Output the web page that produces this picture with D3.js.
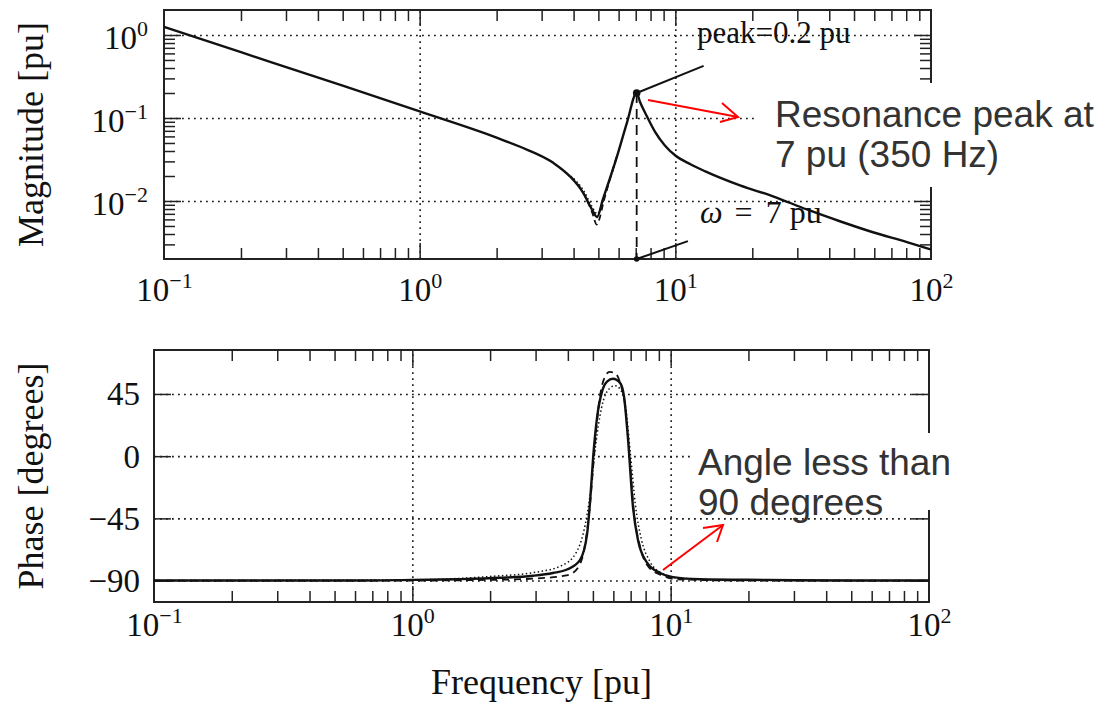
<!DOCTYPE html>
<html><head><meta charset="utf-8">
<script src="https://cdn.jsdelivr.net/npm/d3@7"></script>
<style>
body{margin:0;background:#fff}
svg{display:block}
</style></head><body>
<svg id="c" width="1100" height="706"></svg>
<script>
// ---------- data ----------
const freqTicks = [0.1, 1, 10, 100];
const freqTickExp = ["\u22121", "0", "1", "2"];
const magTicks = [1, 0.1, 0.01];
const magTickExp = ["0", "\u22121", "\u22122"];
const phaseTicks = [45, 0, -45, -90];
const phaseTickLabels = ["45", "0", "\u221245", "\u221290"];

const magFreq  = [0.1, 0.2, 0.5, 1, 2, 2.47, 3.32, 3.87, 4.35, 4.72, 4.94, 5.21, 5.91, 6.47, 7.06, 7.27, 7.75, 8.32, 9.1, 10, 11.5, 13.1, 17.9, 24.1, 32.7, 44, 59.3, 80.5, 100];
const magSolid = [1.25, 0.62, 0.245, 0.12, 0.058, 0.045, 0.029, 0.0198, 0.0127, 0.0079, 0.0064, 0.0105, 0.0343, 0.088, 0.2, 0.157, 0.104, 0.0686, 0.0467, 0.0353, 0.0275, 0.0227, 0.0154, 0.0114, 0.0079, 0.0057, 0.0042, 0.0032, 0.0026];
const magDashFreq = [3.9, 4.4, 4.75, 4.92, 5.0, 5.25, 5.9];
const magDash     = [0.0196, 0.0120, 0.0070, 0.0052, 0.0056, 0.0100, 0.0343];
const magDotFreq  = [3.9, 4.4, 4.7, 4.95, 5.25, 5.9];
const magDot      = [0.0200, 0.0130, 0.0088, 0.0070, 0.0110, 0.0340];

const phFreq  = [0.1, 0.3, 0.6, 1, 1.5, 2.2, 2.93, 3.5, 3.97, 4.46, 4.75, 4.88, 5.01, 5.19, 5.43, 5.67, 5.98, 6.37, 6.6, 6.84, 7.15, 7.48, 8.1, 9.1, 10.2, 13, 23.6, 50, 100];
const phSolid = [-90, -90, -90, -89.5, -89, -88, -86.5, -84.5, -82, -75, -56, -32, -1, 28, 47, 54, 56, 53, 43, 12, -37, -61, -77, -84.5, -87.5, -89, -89.5, -90, -90];
const phDashFreq = [0.1, 1, 2, 3, 4, 4.4, 4.7, 4.9, 5.05, 5.25, 5.5, 5.8, 6.1, 6.4, 6.65, 6.9, 7.2, 7.6, 8.2, 9.2, 10.5, 20, 100];
const phDash     = [-90, -90, -89.5, -88.5, -86, -80, -60, -30, 0, 35, 55, 61, 60, 52, 38, 5, -40, -65, -80, -86, -89, -90, -90];
const phDotFreq  = [0.1, 1, 2, 3, 3.8, 4.3, 4.6, 4.9, 5.1, 5.4, 5.8, 6.1, 6.4, 6.7, 7.0, 7.3, 7.7, 8.3, 9.3, 10.5, 20, 100];
const phDot      = [-90, -89.5, -87, -84, -79, -70, -55, -25, 5, 35, 49, 51, 48, 35, 0, -35, -60, -76, -85, -88, -90, -90];

const peakFreq = 7.06, peakMag = 0.2;
const peakLabelEnd = [12.9, 0.425];
const omegaLabelEnd = [11.2, 0.00328];

// ---------- setup ----------
const svg = d3.select("#c");
svg.append("rect").attr("width", 1100).attr("height", 706).attr("fill", "#fff");
const SERIF = "'Liberation Serif','Times New Roman',serif";
const SANS = "'Liberation Sans',Arial,sans-serif";
const INK = "#111";

function minorLog(lo, hi) {
  const out = [];
  for (let d = Math.pow(10, Math.floor(Math.log10(lo))); d < hi; d *= 10)
    for (let k = 2; k <= 9; k++) { const v = d * k; if (v > lo * 1.0001 && v < hi * 0.9999) out.push(v); }
  return out;
}

function panel(x, y, o) {
  const [L, R] = x.range(), [B, T] = y.range();
  const g = svg.append("g");
  const W = R - L, H = B - T;
  // grid
  const gx = g.append("g").attr("transform", `translate(0,${B})`)
    .call(d3.axisBottom(x).tickValues([1, 10]).tickSize(-H).tickFormat(""));
  const gy = g.append("g").attr("transform", `translate(${L},0)`)
    .call(d3.axisLeft(y).tickValues(o.yTicks).tickSize(-W).tickFormat(""));
  [gx, gy].forEach(s => {
    s.select(".domain").remove();
    s.selectAll("line").attr("stroke", "#1a1a1a").attr("stroke-width", 1.6).attr("stroke-dasharray", "1.8,4.2");
  });
  // ticks
  const tk = (axis, tr, vals, size) => {
    const s = g.append("g").attr("transform", tr).call(axis.tickValues(vals).tickSize(-size).tickFormat(""));
    s.select(".domain").remove();
    s.selectAll("line").attr("stroke", "#222").attr("stroke-width", 1.5);
  };
  const mx = minorLog(0.1, 100);
  tk(d3.axisBottom(x), `translate(0,${B})`, mx, 11);
  tk(d3.axisTop(x), `translate(0,${T})`, mx, 11);
  tk(d3.axisBottom(x), `translate(0,${B})`, [1, 10], 16);
  tk(d3.axisTop(x), `translate(0,${T})`, [1, 10], 16);
  if (o.yMinor.length) {
    tk(d3.axisLeft(y), `translate(${L},0)`, o.yMinor, 11);
    tk(d3.axisRight(y), `translate(${R},0)`, o.yMinor, 11);
  }
  tk(d3.axisLeft(y), `translate(${L},0)`, o.yTicks, 17);
  tk(d3.axisRight(y), `translate(${R},0)`, o.yTicks, 17);
  // x labels
  const lx = g.append("g").attr("transform", `translate(0,${B})`)
    .call(d3.axisBottom(x).tickValues(freqTicks).tickSize(0).tickFormat(() => ""));
  lx.select(".domain").remove();
  lx.attr("font-family", SERIF).attr("font-size", 33);
  lx.selectAll(".tick text").attr("y", o.xLabelDy).attr("dy", null).attr("fill", INK)
    .each(function (d, i) {
      const t = d3.select(this);
      t.append("tspan").text("10");
      t.append("tspan").attr("dy", -13).attr("font-size", 22).text(freqTickExp[i]);
    });
  // y labels
  const ly = g.append("g").attr("transform", `translate(${L},0)`)
    .call(d3.axisLeft(y).tickValues(o.yTicks).tickSize(0).tickFormat(() => ""));
  ly.select(".domain").remove();
  ly.attr("font-family", SERIF).attr("font-size", 33);
  ly.selectAll(".tick text").attr("x", o.yLabelDx).attr("dy", o.yLabelBase).attr("fill", INK)
    .each(function (d, i) {
      const t = d3.select(this);
      if (o.yExp) {
        t.append("tspan").text("10");
        t.append("tspan").attr("dy", -13).attr("font-size", 22).text(o.yExp[i]);
      } else t.text(o.yLabels[i]);
    });
  // frame
  g.append("rect").attr("x", L).attr("y", T).attr("width", W).attr("height", H)
    .attr("fill", "none").attr("stroke", "#222").attr("stroke-width", 2);
  // y title
  svg.append("text").attr("transform", `translate(43,${(T + B) / 2}) rotate(-90)`)
    .attr("text-anchor", "middle").attr("font-family", SERIF).attr("font-size", 36).attr("fill", INK)
    .text(o.title);
  return g;
}

// ---------- magnitude ----------
const x1 = d3.scaleLog().domain([0.1, 100]).range([164, 931]);
const y1 = d3.scaleLog().domain([0.002, 2]).range([259, 10]);
panel(x1, y1, { yTicks: magTicks, yMinor: minorLog(0.002, 2), yExp: magTickExp,
  xLabelDy: 42, yLabelDx: -16, yLabelBase: 14, title: "Magnitude [pu]" });

const line1 = (fs, vs) => d3.line().x((d, i) => x1(fs[i])).y(d => y1(d)).curve(d3.curveMonotoneX)(vs);
svg.append("path").attr("d", line1(magDotFreq, magDot)).attr("fill", "none").attr("stroke", INK)
  .attr("stroke-width", 1.5).attr("stroke-dasharray", "1.5,2.5");
svg.append("path").attr("d", line1(magDashFreq, magDash)).attr("fill", "none").attr("stroke", INK)
  .attr("stroke-width", 1.8).attr("stroke-dasharray", "6,4");

// callout backing boxes (drawn before the curve so it stays visible)
svg.append("rect").attr("x", 758).attr("y", 83).attr("width", 342).attr("height", 104).attr("fill", "#fff");
svg.append("rect").attr("x", 690).attr("y", 433).attr("width", 410).attr("height", 77).attr("fill", "#fff");

svg.append("path").attr("d", line1(magFreq, magSolid)).attr("fill", "none").attr("stroke", INK)
  .attr("stroke-width", 2.4);

// peak annotations
svg.append("line").attr("x1", x1(peakFreq)).attr("y1", y1(peakMag)).attr("x2", x1(peakFreq)).attr("y2", y1.range()[0])
  .attr("stroke", INK).attr("stroke-width", 1.8).attr("stroke-dasharray", "10,6");
svg.append("circle").attr("cx", x1(peakFreq)).attr("cy", y1(peakMag)).attr("r", 3.8).attr("fill", INK);
svg.append("circle").attr("cx", x1(peakFreq)).attr("cy", y1.range()[0]).attr("r", 2.8).attr("fill", INK);
svg.append("line").attr("x1", x1(peakFreq)).attr("y1", y1(peakMag)).attr("x2", x1(peakLabelEnd[0])).attr("y2", y1(peakLabelEnd[1]))
  .attr("stroke", INK).attr("stroke-width", 2);
svg.append("line").attr("x1", x1(peakFreq)).attr("y1", y1.range()[0]).attr("x2", x1(omegaLabelEnd[0])).attr("y2", y1(omegaLabelEnd[1]))
  .attr("stroke", INK).attr("stroke-width", 2);
svg.append("text").attr("x", 697).attr("y", 43).attr("font-family", SERIF).attr("font-size", 31).attr("fill", INK)
  .text("peak=0.2 pu");
const om = svg.append("text").attr("x", 700).attr("y", 223).attr("font-family", SERIF).attr("font-size", 32).attr("fill", INK);
om.append("tspan").attr("font-style", "italic").text("\u03c9");
om.append("tspan").attr("dx", 12).text("=");
om.append("tspan").attr("dx", 13).text("7 pu");

// ---------- phase ----------
const x2 = d3.scaleLog().domain([0.1, 100]).range([154, 929]);
const y2 = d3.scaleLinear().domain([-105.5, 76.8]).range([602, 350]);
panel(x2, y2, { yTicks: phaseTicks, yMinor: [], yLabels: phaseTickLabels,
  xLabelDy: 34, yLabelDx: -14, yLabelBase: 11, title: "Phase [degrees]" });
// re-apply bottom callout box over the phase frame
svg.append("rect").attr("x", 690).attr("y", 433).attr("width", 410).attr("height", 77).attr("fill", "#fff");

const line2 = (fs, vs) => d3.line().x((d, i) => x2(fs[i])).y(d => y2(d)).curve(d3.curveMonotoneX)(vs);
svg.append("path").attr("d", line2(phDotFreq, phDot)).attr("fill", "none").attr("stroke", INK)
  .attr("stroke-width", 1.5).attr("stroke-dasharray", "1.5,2.5");
svg.append("path").attr("d", line2(phDashFreq, phDash)).attr("fill", "none").attr("stroke", INK)
  .attr("stroke-width", 1.8).attr("stroke-dasharray", "7,5");
svg.append("path").attr("d", line2(phFreq, phSolid)).attr("fill", "none").attr("stroke", INK)
  .attr("stroke-width", 2.4);

svg.append("text").attr("x", (154 + 929) / 2).attr("y", 694).attr("text-anchor", "middle")
  .attr("font-family", SERIF).attr("font-size", 36).attr("fill", INK).text("Frequency [pu]");

// ---------- callouts ----------
const call = (x, y, lines) => {
  const t = svg.append("text").attr("font-family", SANS).attr("font-size", 37).attr("fill", "#333");
  lines.forEach((s, i) => t.append("tspan").attr("x", x).attr("y", y + i * 40).text(s));
};
call(775, 127, ["Resonance peak at", "7 pu (350 Hz)"]);
call(698, 475, ["Angle less than", "90 degrees"]);

const arrow = (x0, y0, x1_, y1_, a1, a2) => {
  const p = svg.append("g").attr("stroke", "#f00").attr("stroke-width", 2).attr("fill", "none");
  p.append("line").attr("x1", x0).attr("y1", y0).attr("x2", x1_).attr("y2", y1_);
  p.append("polyline").attr("points", `${a1[0]},${a1[1]} ${x1_},${y1_} ${a2[0]},${a2[1]}`);
};
arrow(648, 100, 738, 117, [722, 103], [720, 122]);
arrow(663, 570, 723, 525, [703, 528], [717, 542]);
</script></body></html>
